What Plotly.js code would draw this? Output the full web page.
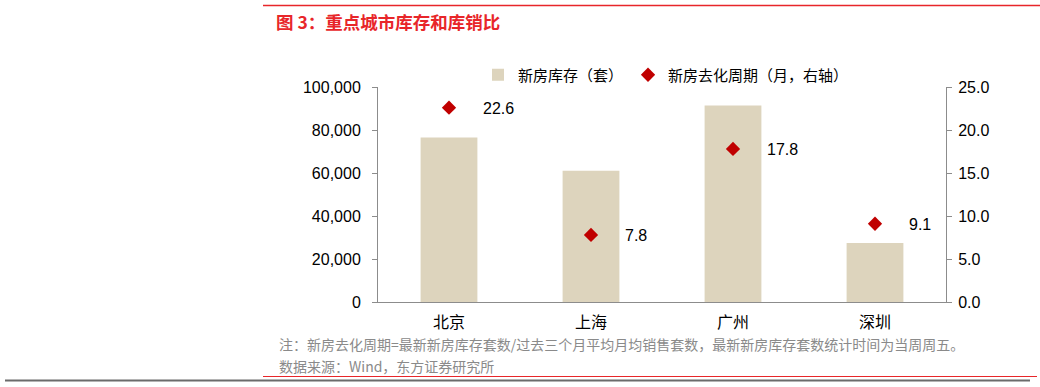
<!DOCTYPE html>
<html>
<head>
<meta charset="utf-8">
<script src="https://cdn.plot.ly/plotly-3.0.1.min.js"></script>
<style>html,body{margin:0;padding:0;background:#fff;}#chart{width:1040px;height:387px;}</style>
</head>
<body>
<div id="chart"></div>
<script>
const cities = ["北京", "上海", "广州", "深圳"];
const inventory = [76500, 61000, 91400, 27400];
const cycleMonths = [22.6, 7.8, 17.8, 9.1];
const cycleLabels = ["22.6", "7.8", "17.8", "9.1"];
const leftTicks = [0, 20000, 40000, 60000, 80000, 100000];
const rightTicks = [0, 5, 10, 15, 20, 25];

const titleText = "图 3：重点城市库存和库销比";
const noteText = "注：新房去化周期=最新新房库存套数/过去三个月平均月均销售套数，最新新房库存套数统计时间为当周周五。";
const sourceText = "数据来源：Wind，东方证券研究所";
const barName = "新房库存（套）";
const markerName = "新房去化周期（月，右轴）";

const latin = "Liberation Sans, Arial, Noto Sans CJK SC, sans-serif";
const cjk = "Noto Sans CJK SC, Liberation Sans, sans-serif";

// plot area in pixels
const L = 378, R = 946, T = 87, B = 302;
const px = x => (x - L) / (R - L);
const py = y => (B - y) / (B - T);

const traces = [
  {
    type: "bar", x: cities, y: inventory, name: barName,
    marker: {color: "#DDD4BD"}, width: 0.4, yaxis: "y"
  },
  {
    type: "scatter", mode: "markers", x: cities, y: cycleMonths, name: markerName,
    marker: {symbol: "diamond", size: 11, color: "#C00000"}, yaxis: "y2", cliponaxis: false
  }
];

const annotations = cities.map((c, i) => ({
  x: c, y: cycleMonths[i], xref: "x", yref: "y2", text: cycleLabels[i],
  showarrow: false, xanchor: "left", yanchor: "middle", xshift: 32, yshift: -1,
  font: {family: latin, size: 16, color: "#000"}
}));
annotations.push({
  x: px(277), y: py(344), xref: "paper", yref: "paper", text: noteText,
  showarrow: false, xanchor: "left", yanchor: "middle",
  font: {family: cjk, size: 14, color: "#8a8a8a"}
});
annotations.push({
  x: px(277), y: py(366), xref: "paper", yref: "paper", text: sourceText,
  showarrow: false, xanchor: "left", yanchor: "middle",
  font: {family: cjk, size: 14, color: "#8a8a8a"}
});

const shapes = [
  {type: "line", xref: "paper", yref: "paper", x0: px(263), x1: px(1040), y0: py(5.5), y1: py(5.5), line: {color: "#E8262A", width: 1.5}},
  {type: "line", xref: "paper", yref: "paper", x0: px(263), x1: px(1037), y0: py(376.5), y1: py(376.5), line: {color: "#E8262A", width: 1.2}},
  {type: "line", xref: "paper", yref: "paper", x0: px(5), x1: px(1030), y0: py(380.5), y1: py(380.5), line: {color: "#6b6b6b", width: 2.2}}
];

const axisLine = "#8c8c8c";
const layout = {
  width: 1040, height: 387,
  margin: {l: L, r: 1040 - R, t: T, b: 387 - B},
  paper_bgcolor: "#fff", plot_bgcolor: "#fff",
  showlegend: true,
  title: {
    text: titleText, xref: "container", yref: "container",
    x: 276 / 1040, xanchor: "left", y: 1 - 23 / 387, yanchor: "middle",
    font: {family: cjk, size: 17.5, color: "#E8262A", weight: "bold"}
  },
  legend: {
    orientation: "h", x: px(478), xanchor: "left", y: py(75), yanchor: "middle",
    font: {family: cjk, size: 15, color: "#000"}, bgcolor: "rgba(0,0,0,0)"
  },
  xaxis: {
    type: "category", showline: true, linecolor: axisLine, linewidth: 1,
    ticks: "", showgrid: false, zeroline: false, ticklabelstandoff: 6,
    tickfont: {family: cjk, size: 16, color: "#000"}, fixedrange: true
  },
  yaxis: {
    range: [0, 100000], tickvals: leftTicks, tickformat: ",d",
    showline: true, linecolor: axisLine, linewidth: 1,
    ticks: "outside", ticklen: 5, tickcolor: axisLine, showgrid: false, zeroline: false,
    tickfont: {family: latin, size: 16, color: "#000"}, ticklabelstandoff: 8
  },
  yaxis2: {
    range: [0, 25], tickvals: rightTicks, tickformat: ".1f", overlaying: "y", side: "right",
    showline: true, linecolor: axisLine, linewidth: 1,
    ticks: "outside", ticklen: 5, tickcolor: axisLine, showgrid: false, zeroline: false,
    tickfont: {family: latin, size: 16, color: "#000"}, ticklabelstandoff: 3
  },
  annotations: annotations,
  shapes: shapes
};

Plotly.newPlot("chart", traces, layout, {staticPlot: true, displayModeBar: false});
</script>
</body>
</html>
